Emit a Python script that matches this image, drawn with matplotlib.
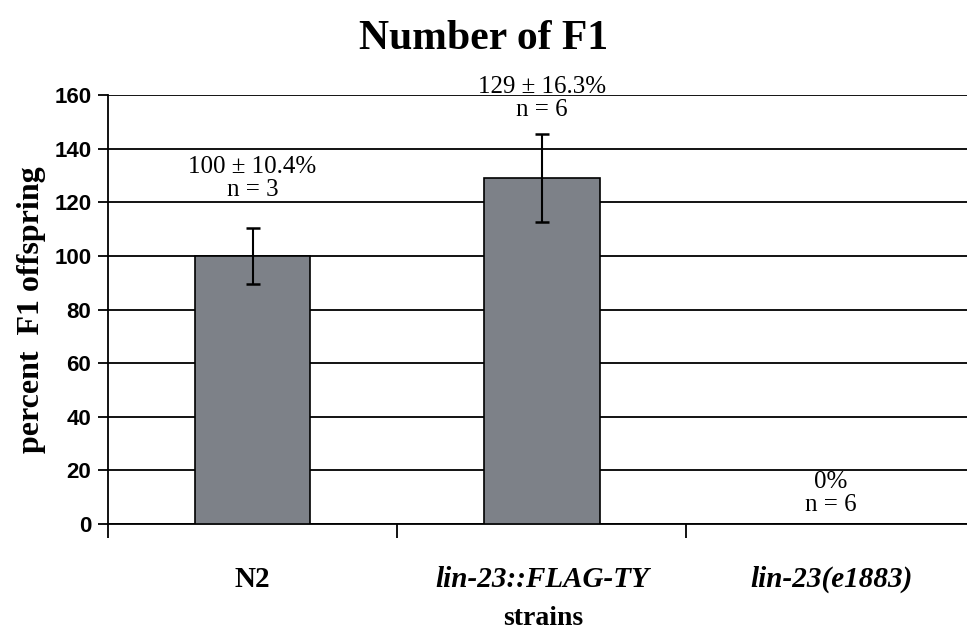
import matplotlib
matplotlib.use("Agg")
import matplotlib.pyplot as plt

strains = ["N2", "lin-23::FLAG-TY", "lin-23(e1883)"]
percent = [100, 129, 0]
errors = [10.4, 16.3, 0]
notes = ["100 \u00b1 10.4%\nn = 3", "129 \u00b1 16.3%\nn = 6", "0%\nn = 6"]
note_gap = [10, 5, 3]   # space between error bar top and its note
yticks = [0, 20, 40, 60, 80, 100, 120, 140, 160]

serif = "Liberation Serif"
sans = "Liberation Sans"

fig = plt.figure(figsize=(9.67, 6.33), dpi=100)
ax = fig.add_axes([0.1117, 0.172, 0.8883, 0.678])

x = range(len(strains))
ax.bar(x, percent, width=0.4, color="#7d8188", edgecolor="black", lw=1.2, zorder=3)
ax.errorbar(x[:2], percent[:2], yerr=errors[:2], fmt="none", ecolor="black",
            elinewidth=1.5, capsize=5, capthick=1.8, zorder=4)

for i, (p, e, t, g) in enumerate(zip(percent, errors, notes, note_gap)):
    ax.text(i, p + e + g, t, ha="center", va="bottom",
            family=serif, fontsize=18, linespacing=1.05)

ax.set_xlim(-0.5, 2.47)
ax.set_ylim(0, 160)
ax.set_yticks(yticks)
ax.yaxis.grid(True, color="black", lw=1.3, zorder=0)
ax.set_axisbelow(True)
for s in ["top", "right"]:
    ax.spines[s].set_visible(False)
ax.spines["left"].set_linewidth(1.3)
ax.spines["bottom"].set_linewidth(1.3)

ax.set_xticks(list(x))
ax.set_xticklabels(strains)
ax.set_xticks([-0.5, 0.5, 1.5], minor=True)
ax.tick_params(axis="x", which="major", length=0, pad=30)
ax.tick_params(axis="x", which="minor", length=10, width=1.3, direction="out")
ax.tick_params(axis="y", length=7, width=1.3, direction="out", pad=5)

for lab, st in zip(ax.get_xticklabels(), ["normal", "italic", "italic"]):
    lab.set_family(serif)
    lab.set_fontweight("bold")
    lab.set_fontstyle(st)
    lab.set_fontsize(21)
for lab in ax.get_yticklabels():
    lab.set_family(sans)
    lab.set_fontweight("bold")
    lab.set_fontsize(16)

ax.set_ylabel("percent  F1 offspring", family=serif, fontweight="bold", fontsize=23, labelpad=6)
ax.set_xlabel("strains", family=serif, fontweight="bold", fontsize=20)
ax.xaxis.set_label_coords(0.507, -0.19)
fig.suptitle("Number of F1", family=serif, fontweight="bold", fontsize=30, y=0.968)

fig.savefig("out.png", dpi=100)
